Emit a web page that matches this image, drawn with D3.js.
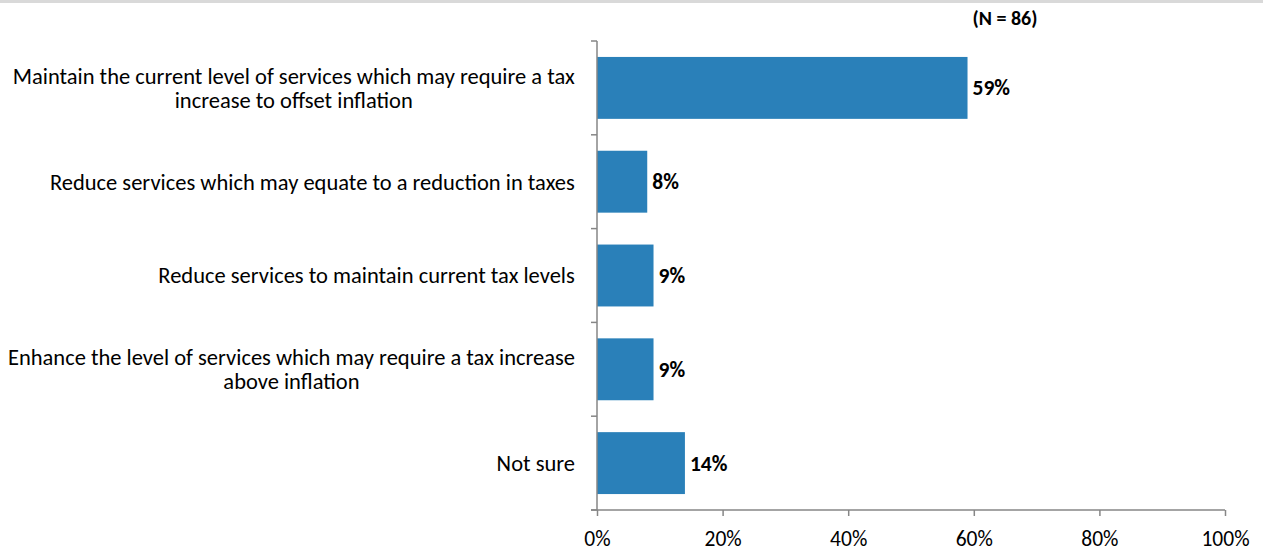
<!DOCTYPE html>
<html>
<head>
<meta charset="utf-8">
<script src="https://cdn.jsdelivr.net/npm/d3@7"></script>
<style>
  html, body { margin: 0; padding: 0; background: #fff; }
  svg { display: block; }
  text { font-family: Carlito, "Liberation Sans", Arial, sans-serif; }
</style>
</head>
<body>
<svg id="chart" width="1263" height="554"></svg>
<script>
// Survey responses: preferred approach to services and taxes
const categories = [
  ["Maintain the current level of services which may require a tax", "increase to offset inflation"],
  ["Reduce services which may equate to a reduction in taxes"],
  ["Reduce services to maintain current tax levels"],
  ["Enhance the level of services which may require a tax increase", "above inflation"],
  ["Not sure"]
];
const values = [59, 8, 9, 9, 14];
const tickValues = [0, 20, 40, 60, 80, 100];
const sampleNote = "(N = 86)";

const svg = d3.select("#chart");
const W = 1263, H = 554;
const margin = { left: 597, right: 38, top: 41, bottom: 44 };
const fontSize = 21.5;
const catFontSize = 22.5;

// light header band
svg.append("rect").attr("x", 0).attr("y", 0).attr("width", W).attr("height", 3).attr("fill", "#d9d9d9");

const x = d3.scaleLinear().domain([0, 100]).range([margin.left, W - margin.right]);
const y = d3.scaleBand().domain(d3.range(categories.length))
  .range([margin.top, H - margin.bottom]).paddingInner(0.34).paddingOuter(0.17);

const axisColor = "#868686";

// bars
svg.append("g").selectAll("rect").data(values).join("rect")
  .attr("x", x(0))
  .attr("y", (d, i) => y(i))
  .attr("width", d => x(d) - x(0))
  .attr("height", y.bandwidth())
  .attr("fill", "#2a80b9");

// value labels
svg.append("g").selectAll("text").data(values).join("text")
  .attr("x", d => x(d) + 5)
  .attr("y", (d, i) => y(i) + y.bandwidth() / 2)
  .attr("dy", "0.35em")
  .attr("font-size", fontSize)
  .attr("font-weight", "bold")
  .attr("fill", "#000")
  .text(d => d + "%");

// y axis line with category separator ticks
const y0 = margin.top, y1 = H - margin.bottom;
const yAxis = svg.append("g");
yAxis.append("line").attr("x1", x(0)).attr("x2", x(0)).attr("y1", y0).attr("y2", y1)
  .attr("stroke", axisColor).attr("stroke-width", 1.5);
const step = (y1 - y0) / categories.length;
d3.range(categories.length + 1).forEach(i => {
  yAxis.append("line").attr("x1", x(0) - 6).attr("x2", x(0))
    .attr("y1", y0 + i * step).attr("y2", y0 + i * step)
    .attr("stroke", axisColor).attr("stroke-width", 1.5);
});

// category labels: lines centred on each other, block right-aligned near the axis
const catG = svg.append("g");
categories.forEach((lines, i) => {
  const cy = y(i) + y.bandwidth() / 2;
  const lh = 24.5;
  const t = catG.append("text")
    .attr("text-anchor", "middle")
    .attr("font-size", catFontSize)
    .attr("fill", "#000");
  const startY = cy - (lines.length - 1) * lh / 2;
  lines.forEach((ln, j) => {
    t.append("tspan").attr("x", 0).attr("y", startY + j * lh).attr("dy", "0.35em").text(ln);
  });
  const bb = t.node().getBBox();
  t.attr("transform", `translate(${575 - (bb.x + bb.width)},0)`);
});

// x axis
const xAxis = d3.axisBottom(x).tickValues(tickValues).tickFormat(d => d + "%").tickSize(6).tickSizeOuter(0);
const gx = svg.append("g").attr("transform", `translate(0,${y1})`).call(xAxis);
gx.select(".domain").attr("stroke", axisColor).attr("stroke-width", 1.5).attr("d", `M${x(0) - 6},0H${x(100)}`);
gx.selectAll(".tick line").attr("stroke", axisColor).attr("stroke-width", 1.5);
gx.selectAll(".tick text").attr("font-size", fontSize).attr("fill", "#000").attr("y", 21).attr("dy", "0.71em")
  .style("font-family", 'Carlito, "Liberation Sans", Arial, sans-serif');

// sample size note
svg.append("text").attr("x", 1005).attr("y", 25).attr("text-anchor", "middle")
  .attr("font-size", 20).attr("font-weight", "bold").attr("fill", "#000").text(sampleNote);
</script>
</body>
</html>
